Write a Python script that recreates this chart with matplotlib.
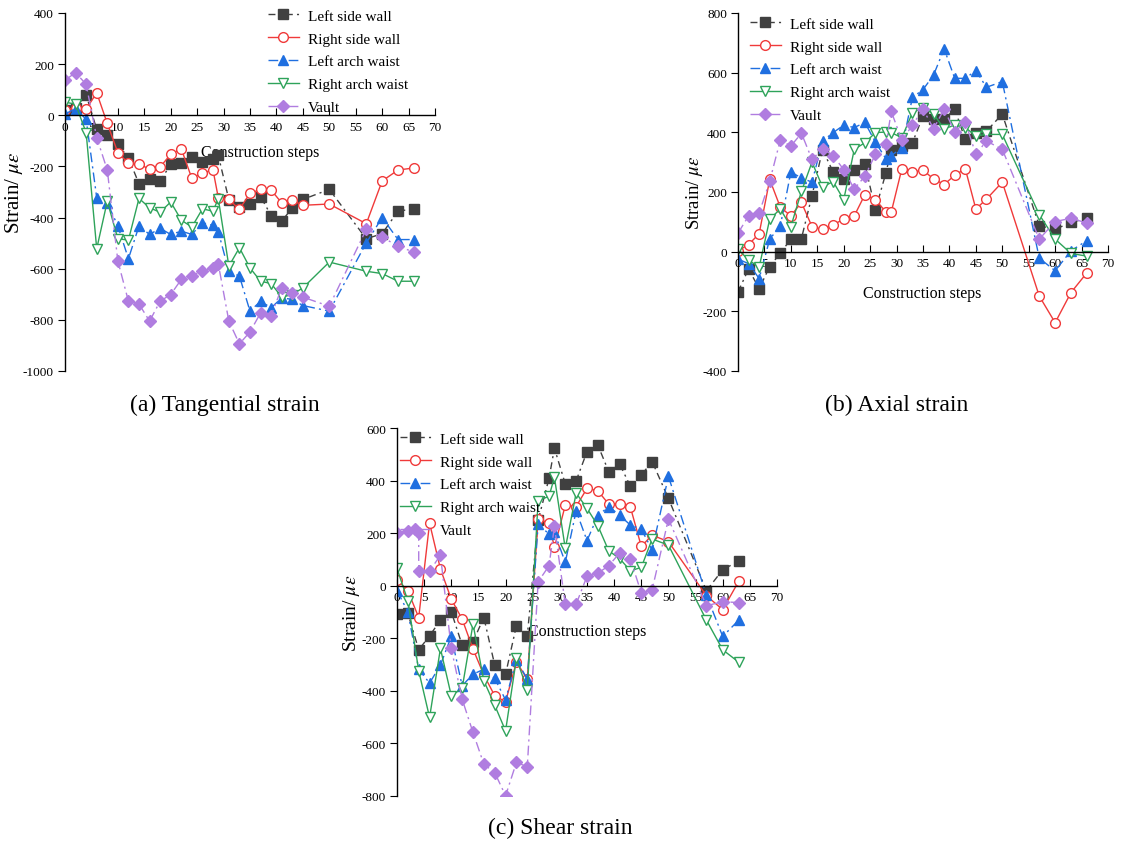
import matplotlib
matplotlib.use('Agg')
import matplotlib.pyplot as plt

plt.rcParams['font.family'] = ['Liberation Serif', 'DejaVu Serif']
plt.rcParams['mathtext.fontset'] = 'stix'
plt.rcParams['axes.unicode_minus'] = False

series_names = ['Left side wall', 'Right side wall', 'Left arch waist', 'Right arch waist', 'Vault']

# (a) Tangential strain
a_steps = [0, 2, 4, 6, 8, 10, 12, 14, 16, 18, 20, 22, 24, 26, 28, 29, 31, 33, 35, 37, 39, 41, 43, 45, 50, 57, 60, 63, 66]
a_left_wall = [20, 30, 80, -55, -78, -114, -166, -268, -248, -257, -192, -188, -165, -183, -170, -157, -330, -360, -345, -318, -392, -414, -362, -329, -290, -483, -463, -375, -366]
a_right_wall = [20, 30, 24, 88, -32, -146, -188, -189, -212, -202, -153, -131, -247, -225, -214, -322, -329, -368, -305, -290, -292, -343, -333, -352, -347, -424, -257, -214, -206]
a_left_arch = [5, 26, -16, -322, -342, -433, -561, -433, -466, -442, -466, -453, -466, -420, -431, -455, -610, -629, -766, -727, -753, -714, -720, -744, -766, -499, -400, -486, -486]
a_right_arch = [52, 43, -68, -522, -336, -483, -488, -325, -362, -379, -339, -410, -437, -366, -375, -326, -590, -518, -597, -649, -658, -711, -701, -675, -574, -610, -619, -649, -649]
a_vault = [137, 167, 121, -87, -214, -570, -727, -738, -805, -727, -701, -642, -627, -610, -597, -581, -805, -894, -847, -773, -783, -675, -694, -711, -747, -446, -476, -512, -535]

# (b) Axial strain
b_steps = [0, 2, 4, 6, 8, 10, 12, 14, 16, 18, 20, 22, 24, 26, 28, 29, 31, 33, 35, 37, 39, 41, 43, 45, 47, 50, 57, 60, 63, 66]
b_left_wall = [-135, -58, -124, -50, -5, 42, 44, 188, 342, 267, 242, 275, 294, 140, 265, 342, 355, 365, 455, 444, 444, 478, 376, 399, 404, 461, 87, 75, 98, 112]
b_right_wall = [3, 24, 60, 242, 149, 120, 165, 84, 75, 90, 109, 120, 191, 174, 133, 133, 278, 267, 273, 244, 225, 256, 278, 143, 176, 233, -149, -238, -137, -71]
b_left_arch = [-25, -40, -90, 42, 86, 267, 247, 233, 371, 399, 424, 416, 433, 367, 311, 322, 348, 517, 543, 592, 680, 581, 581, 607, 551, 570, -22, -64, 3, 37]
b_right_arch = [8, -28, -52, 109, 143, 84, 202, 300, 217, 235, 174, 343, 365, 399, 401, 399, 382, 466, 483, 461, 412, 424, 416, 388, 393, 393, 124, 42, -6, -15]
b_vault = [62, 120, 129, 236, 374, 354, 397, 309, 345, 322, 275, 210, 253, 326, 360, 470, 373, 424, 478, 412, 478, 401, 435, 326, 371, 343, 42, 101, 112, 96]

# (c) Shear strain
c_steps = [0, 2, 4, 6, 8, 10, 12, 14, 16, 18, 20, 22, 24, 26, 28, 29, 31, 33, 35, 37, 39, 41, 43, 45, 47, 50, 57, 60, 63]
c_left_wall = [-108, -105, -244, -191, -131, -99, -226, -213, -121, -302, -337, -152, -191, 250, 409, 524, 388, 400, 511, 536, 435, 464, 379, 422, 473, 333, -19, 61, 95]
c_right_wall = [23, -19, -121, 239, 64, -51, -127, -241, -340, -419, -442, -290, -356, 254, 239, 146, 307, 302, 371, 362, 311, 311, 299, 150, 193, 168, -38, -91, 19]
c_left_arch = [-19, -99, -318, -371, -302, -193, -381, -337, -318, -353, -435, -282, -356, 235, 197, 203, 89, 286, 172, 267, 302, 269, 231, 216, 136, 417, -36, -193, -130]
c_right_arch = [66, -57, -324, -502, -239, -419, -391, -146, -362, -455, -553, -277, -396, 324, 341, 413, 142, 353, 295, 229, 133, 104, 57, 70, 178, 155, -131, -244, -292]
c_vault_steps = [0, 2, 4, 4, 6, 8, 10, 12, 14, 16, 18, 20, 22, 24, 26, 28, 29, 31, 33, 35, 37, 39, 41, 43, 45, 47, 50, 57, 60, 63]
c_vault = [200, 210, 200, 55, 55, 117, -239, -432, -559, -680, -712, -800, -673, -690, 15, 76, 226, -70, -70, 36, 48, 76, 125, 102, -28, -15, 254, -76, -61, -64]

W, H = 1121, 845

styles = [
    dict(color='#404040', marker='s', mfc='#404040', ls=(0, (5, 3, 1.5, 3))),
    dict(color='#f03a3a', marker='o', mfc='white', ls='-'),
    dict(color='#1f6fe0', marker='^', mfc='#1f6fe0', ls=(0, (7, 3, 1.5, 3))),
    dict(color='#2ea35a', marker='v', mfc='white', ls='-'),
    dict(color='#b07de0', marker='D', mfc='#b07de0', ls=(0, (7, 3, 1.5, 3))),
]


def make_axes(left, right, top, bottom):
    return fig.add_axes([left / W, 1 - bottom / H, (right - left) / W, (bottom - top) / H])


def draw_panel(ax, xs_list, ys_list, ylim, yticks, xlabel_pos, ylabel_size, legend_xy, caption, caption_xy):
    for xs, ys, name, st in zip(xs_list, ys_list, series_names, styles):
        ms = 6 if st['marker'] == 'D' else 7
        ax.plot(xs, ys, color=st['color'], ls=st['ls'], lw=1.0, marker=st['marker'],
                mfc=st['mfc'], mec=st['color'], ms=ms, mew=1.0, label=name)
    ax.set_xlim(0, 70)
    ax.set_ylim(*ylim)
    ax.set_xticks(range(0, 71, 5))
    ax.set_yticks(yticks)
    ax.spines['top'].set_visible(False)
    ax.spines['right'].set_visible(False)
    ax.spines['bottom'].set_position(('data', 0))
    ax.spines['left'].set_linewidth(1.0)
    ax.spines['bottom'].set_linewidth(1.0)
    ax.tick_params(axis='x', direction='in', length=5, labelsize=9.5, pad=4)
    ax.tick_params(axis='y', direction='out', length=5, labelsize=9.5, pad=3)
    ax.patch.set_alpha(0)
    ax.set_xlabel('Construction steps', fontsize=11.5)
    ax.xaxis.set_label_coords(*xlabel_pos)
    ax.set_ylabel(r'Strain/ $\mu\varepsilon$', fontsize=ylabel_size)
    ax.legend(loc='upper left', bbox_to_anchor=(legend_xy[0] / W, 1 - legend_xy[1] / H),
              bbox_transform=fig.transFigure, frameon=False, fontsize=11,
              handlelength=2.0, handletextpad=0.6, labelspacing=0.6, borderpad=0,
              borderaxespad=0)
    fig.text(caption_xy[0] / W, 1 - caption_xy[1] / H, caption, fontsize=17,
             ha='center', va='center')


fig = plt.figure(figsize=(W / 100, H / 100), dpi=100)

ax_a = make_axes(65, 435, 14, 372)
draw_panel(ax_a, [a_steps] * 5, [a_left_wall, a_right_wall, a_left_arch, a_right_arch, a_vault],
           (-1000, 400), range(-1000, 401, 200), (0.527, 0.635), 15, (268, 10),
           '(a) Tangential strain', (225, 405))
ax_a.yaxis.set_label_coords(-0.108, 0.5)

ax_b = make_axes(738, 1108, 14, 372)
draw_panel(ax_b, [b_steps] * 5, [b_left_wall, b_right_wall, b_left_arch, b_right_arch, b_vault],
           (-400, 800), range(-400, 801, 200), (0.497, 0.24), 13.5, (750, 18),
           '(b) Axial strain', (897, 405))
ax_b.yaxis.set_label_coords(-0.09, 0.5)

ax_c = make_axes(397, 777, 429.3, 796.7)
draw_panel(ax_c, [c_steps] * 4 + [c_vault_steps],
           [c_left_wall, c_right_wall, c_left_arch, c_right_arch, c_vault],
           (-800, 600), range(-800, 601, 200), (0.5, 0.47), 14, (400, 433),
           '(c) Shear strain', (560, 828))
ax_c.yaxis.set_label_coords(-0.092, 0.5)

fig.savefig('out.png', dpi=100)
